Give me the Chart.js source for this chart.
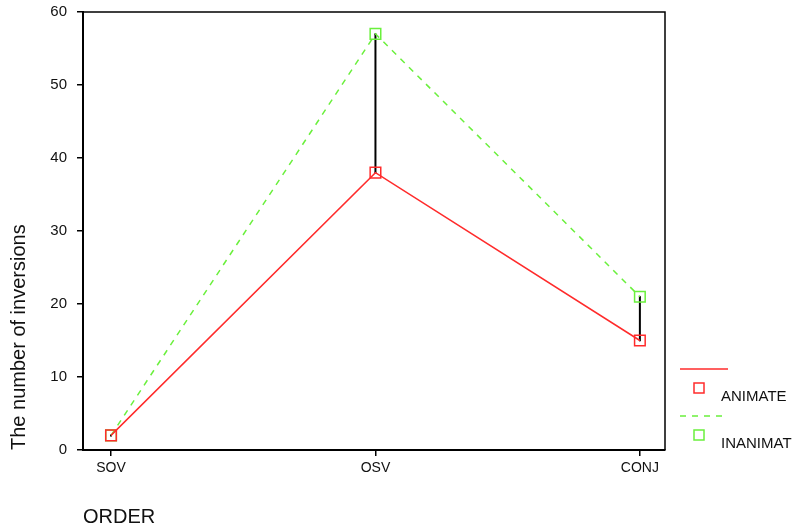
<!DOCTYPE html>
<html>
<head>
<meta charset="utf-8">
<script src="https://cdn.jsdelivr.net/npm/chart.js@4"></script>
<style>
  html, body { margin: 0; padding: 0; background: #fff; }
  canvas { display: block; }
</style>
</head>
<body>
<canvas id="invChart" width="796" height="528"></canvas>
<script>
// categories and series
const orders = ["SOV", "OSV", "CONJ"];
const seriesNames = ["ANIMATE", "INANIMAT"];
const animate = [2, 38, 15];
const inanimate = [2, 57, 21];
const yTicks = [0, 10, 20, 30, 40, 50, 60];

const red = "#ff2b2b";
const green = "#6af03c";
const font = "'Liberation Sans', Arial, Helvetica, sans-serif";

const toPoints = (vals) => vals.map((v, i) => ({ x: i, y: v }));

// black high-low lines between the two series
const hiLo = orders.map((_, i) => ({
  data: [
    { x: i, y: Math.min(animate[i], inanimate[i]) },
    { x: i, y: Math.max(animate[i], inanimate[i]) },
  ],
  borderColor: "#000",
  borderWidth: 2,
  pointRadius: 1,
  pointBackgroundColor: "#000",
  pointBorderWidth: 0,
}));

// top and right frame lines + the legend at the right
const framePlugin = {
  id: "frame",
  afterDraw(chart) {
    const { ctx, chartArea: a } = chart;
    ctx.save();
    ctx.strokeStyle = "#000";
    ctx.lineWidth = 1.5;
    ctx.beginPath();
    ctx.moveTo(a.left, a.top);
    ctx.lineTo(a.right, a.top);
    ctx.lineTo(a.right, a.bottom);
    ctx.stroke();

    // legend
    const colors = [red, green];
    const dashes = [[], [6, 6]];
    seriesNames.forEach((name, i) => {
      const y0 = 369 + i * 47;
      ctx.strokeStyle = colors[i];
      ctx.lineWidth = 1.5;
      ctx.setLineDash(dashes[i]);
      ctx.beginPath();
      ctx.moveTo(680, y0);
      ctx.lineTo(728, y0);
      ctx.stroke();
      ctx.setLineDash([]);
      ctx.lineWidth = 1.5;
      ctx.strokeRect(694, y0 + 14, 10, 10);
      ctx.fillStyle = "#111";
      ctx.font = "15px " + font;
      ctx.textAlign = "left";
      ctx.textBaseline = "middle";
      ctx.fillText(name, 721, y0 + 28);
    });
    ctx.restore();
  },
};

const config = {
  type: "line",
  data: {
    datasets: [
      {
        label: seriesNames[0],
        data: toPoints(animate),
        borderColor: red,
        borderWidth: 1.5,
        pointStyle: "rect",
        pointRadius: 7.5,
        pointBorderWidth: 1.5,
        pointBorderColor: red,
        pointBackgroundColor: "rgba(0,0,0,0)",
        tension: 0,
      },
      {
        label: seriesNames[1],
        data: toPoints(inanimate),
        borderColor: green,
        borderWidth: 1.5,
        borderDash: [6, 6],
        pointStyle: "rect",
        pointRadius: 7.5,
        pointBorderWidth: 1.5,
        pointBorderColor: green,
        pointBackgroundColor: "rgba(0,0,0,0)",
        tension: 0,
      },
      ...hiLo,
    ],
  },
  options: {
    responsive: false,
    animation: false,
    layout: { padding: { top: 12, right: 131, left: 0, bottom: 0 } },
    plugins: {
      legend: { display: false },
      tooltip: { enabled: false },
    },
    scales: {
      x: {
        type: "linear",
        min: -0.106,
        max: 2.095,
        afterFit: (scale) => {
          scale.height = 78;
          scale.paddingLeft = 0;
          scale.paddingRight = 0;
        },
        afterBuildTicks: (scale) => { scale.ticks = orders.map((_, i) => ({ value: i })); },
        border: { display: true, color: "#000", width: 2 },
        grid: { display: true, drawOnChartArea: false, drawTicks: true, tickLength: 6, color: "#000", lineWidth: 1.5 },
        ticks: {
          callback: (v) => orders[v],
          color: "#111",
          padding: 4,
          maxRotation: 0,
          font: { family: font, size: 14 },
        },
        title: {
          display: true,
          text: "ORDER",
          align: "start",
          color: "#111",
          padding: { top: 0, bottom: 0 },
          font: { family: font, size: 20, lineHeight: 1.1 },
        },
      },
      y: {
        min: 0,
        max: 60,
        afterFit: (scale) => {
          scale.width = 83;
          scale.paddingTop = 0;
          scale.paddingBottom = 0;
        },
        afterBuildTicks: (scale) => { scale.ticks = yTicks.map((v) => ({ value: v })); },
        border: { display: true, color: "#000", width: 2 },
        grid: { display: true, drawOnChartArea: false, drawTicks: true, tickLength: 6, color: "#000", lineWidth: 1.5 },
        ticks: {
          color: "#111",
          padding: 10,
          font: { family: font, size: 15 },
        },
        title: {
          display: true,
          text: "The number of inversions",
          align: "start",
          color: "#111",
          padding: { top: 7, bottom: 0 },
          font: { family: font, size: 20, lineHeight: 1.2 },
        },
      },
    },
  },
  plugins: [framePlugin],
};

new Chart(document.getElementById("invChart"), config);
</script>
</body>
</html>
